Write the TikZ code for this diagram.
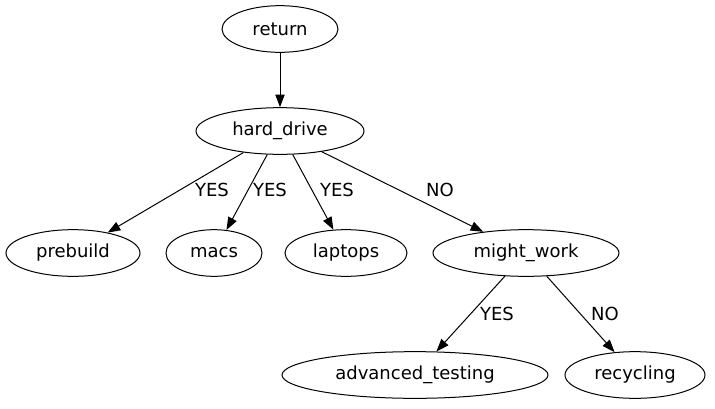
\documentclass[tikz,border=0pt]{standalone}
\usepackage{fontspec}
\setmainfont{DejaVu Sans}
\usetikzlibrary{shapes.geometric,arrows.meta}

\tikzset{
	gvnode/.style={ellipse, draw, line width=0.75pt, inner sep=0pt,
		minimum height=35pt, minimum width=#1, font=\fontsize{13.5}{15}\selectfont},
	gvedge/.style={line width=0.75pt, -{Triangle[length=9.5pt,width=7pt]}},
	gvlabel/.style={font=\fontsize{13.5}{15}\selectfont, inner sep=0pt}
}

\begin{document}
\begin{tikzpicture}[x=0.75pt,y=-0.75pt]
		\useasboundingbox (0,0) rectangle (715,408);
		% nodes
		\node[gvnode=87pt] (return) at (280,29) {return};
		\node[gvnode=126pt] (harddrive) at (280,131) {hard\_drive};
		\node[gvnode=100.5pt] (prebuild) at (73,253) {prebuild};
		\node[gvnode=72pt] (macs) at (214,253) {macs};
		\node[gvnode=91.5pt] (laptops) at (346,253) {laptops};
		\node[gvnode=139.5pt] (mightwork) at (526,253) {might\_work};
		\node[gvnode=199.5pt] (advtesting) at (415,375) {advanced\_testing};
		\node[gvnode=105pt] (recycling) at (635,375) {recycling};
		% edges
		\draw[gvedge] (return) -- (harddrive);
		\draw[gvedge] (harddrive) -- (prebuild);
		\draw[gvedge] (harddrive) -- (macs);
		\draw[gvedge] (harddrive) -- (laptops);
		\draw[gvedge] (harddrive) -- (mightwork);
		\draw[gvedge] (mightwork) -- (advtesting);
		\draw[gvedge] (mightwork) -- (recycling);
		% labels
		\node[gvlabel] (l1) at (212,190) {YES};
		\node[gvlabel] (l2) at (270,190) {YES};
		\node[gvlabel] (l3) at (337,190) {YES};
		\node[gvlabel] (l4) at (440,190) {NO};
		\node[gvlabel] (l5) at (497,314) {YES};
		\node[gvlabel] (l6) at (605,314) {NO};
	\end{tikzpicture}
\end{document}
